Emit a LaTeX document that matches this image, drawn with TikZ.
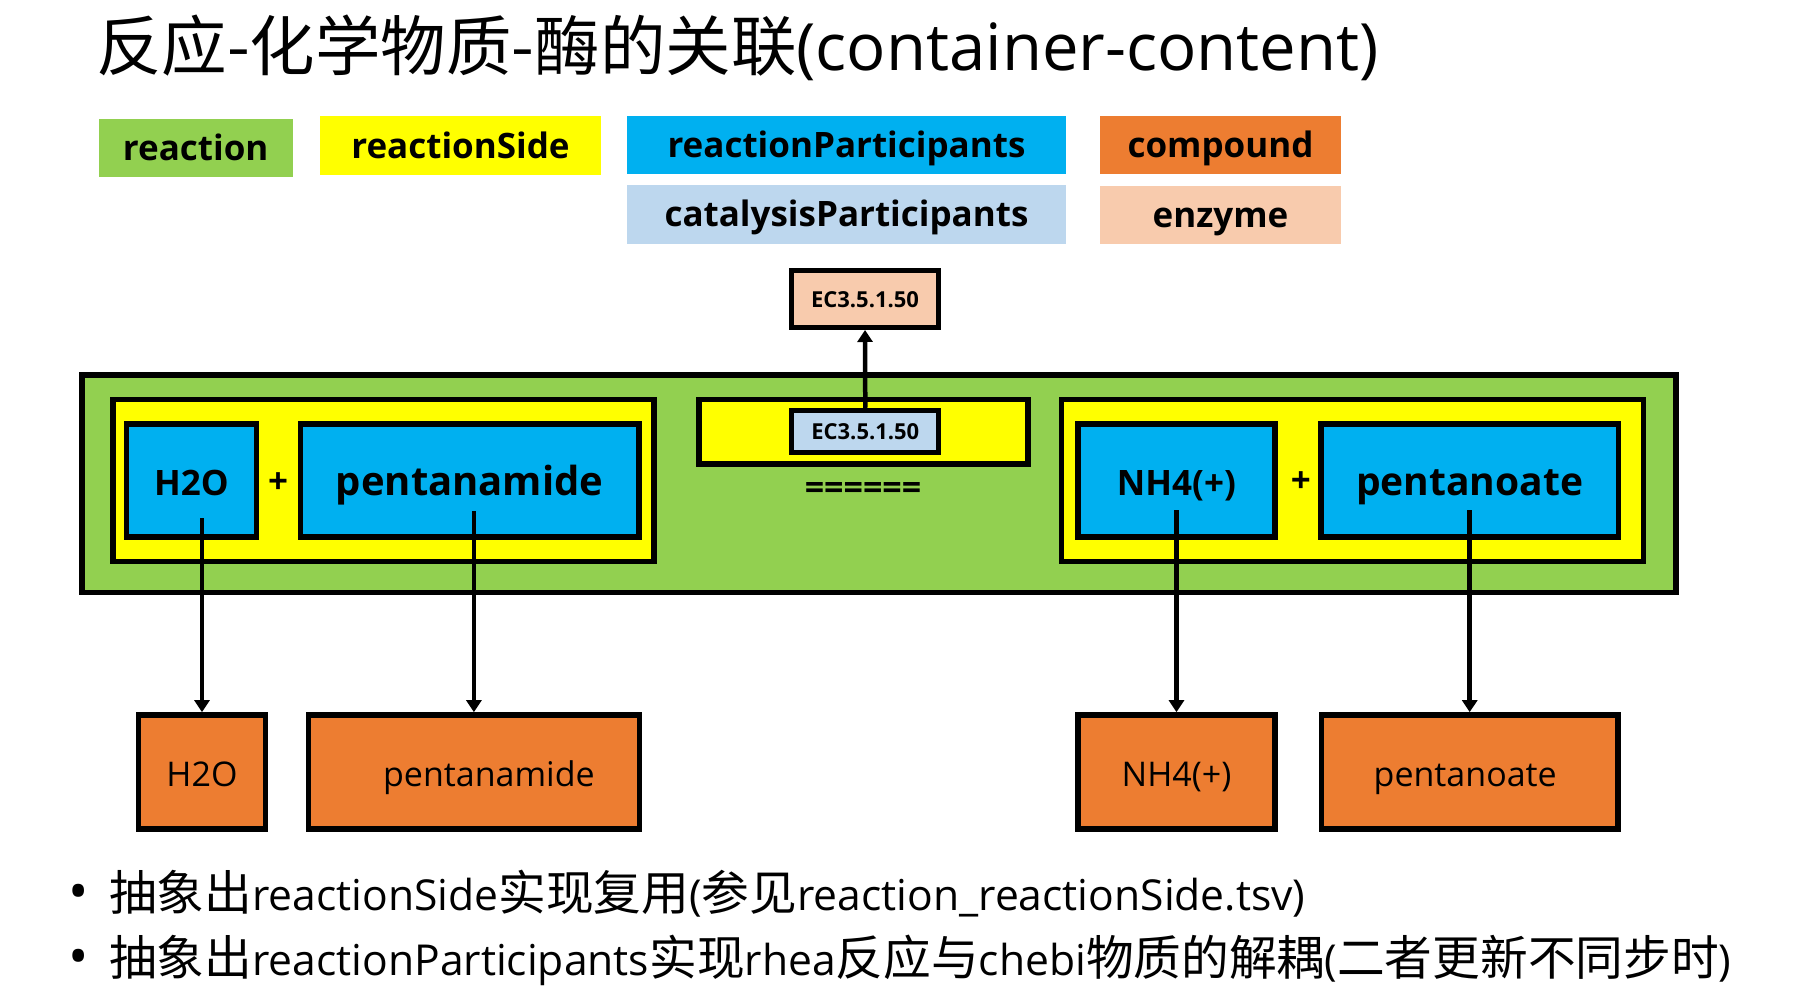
\documentclass[tikz,border=0pt]{standalone}
\usepackage{fontspec}
\setmainfont{Open Sans}
\newfontfamily\cjk{Noto Sans CJK SC}
\usetikzlibrary{arrows.meta}
\definecolor{cGreen}{HTML}{92D050}
\definecolor{cYellow}{HTML}{FFFF00}
\definecolor{cBlue}{HTML}{00B0F0}
\definecolor{cLBlue}{HTML}{BDD7EE}
\definecolor{cOrange}{HTML}{ED7D31}
\definecolor{cPeach}{HTML}{F8CBAD}
\newcommand{\fs}[1]{\fontsize{#1}{#1}\selectfont}
\newcommand{\cj}[1]{{\cjk\fs{47.7}#1}}
\begin{document}
\begin{tikzpicture}[x=1pt,y=-1pt,
  lg/.style={fill=#1, inner sep=0pt, text height=25pt, text depth=0pt, font=\fs{35}\bfseries},
  frame/.style={draw, line width=5.5pt, fill=#1, inner sep=0pt},
  bluebox/.style={draw, line width=5.5pt, fill=cBlue, inner sep=0pt, text height=29pt, text depth=0pt, minimum height=113pt},
  orbox/.style={draw, line width=5.5pt, fill=cOrange, inner sep=0pt, text height=29pt, text depth=0pt, minimum height=114pt, font=\fs{34}},
  ecbox/.style={draw, line width=5pt, fill=#1, inner sep=0pt, text height=16pt, text depth=0pt, font=\fs{22}\bfseries, minimum width=147pt},
  conn/.style={line width=4.5pt, -{Triangle[length=12pt,width=15pt]}},
  txt/.style={inner sep=0pt}]
\useasboundingbox (0,0) rectangle (1799,988);
\fill[white] (0,0) rectangle (1799,988);

% title
\node[txt, anchor=base west] (title) at (96,70) {\fs{65.5}\cjk 反应-化学物质-酶的关联{\rmfamily\fs{65.2}(container-content)}};

% legend
\node[lg=cGreen, minimum width=194pt, minimum height=57.7pt] (lgR) at (195.7,147.9) {reaction};
\node[lg=cYellow, minimum width=281pt, minimum height=59pt] (lgRS) at (460.5,145.5) {reactionSide};
\node[lg=cBlue, minimum width=439pt, minimum height=57.7pt] (lgRP) at (846.5,144.9) {reactionParticipants};
\node[lg=cLBlue, minimum width=439pt, minimum height=58.7pt] (lgCP) at (846.5,214.4) {catalysisParticipants};
\node[lg=cOrange, minimum width=241pt, minimum height=57.7pt] (lgC) at (1220.5,144.9) {compound};
\node[lg=cPeach, minimum width=241pt, minimum height=57.7pt] (lgE) at (1220.5,214.9) {enzyme};

% enzyme top
\node[ecbox=cPeach, minimum height=57pt] (ecTop) at (865,299) {EC3.5.1.50};

% reaction container
\node[frame=cGreen, minimum width=1594pt, minimum height=217.8pt] (rxn) at (878.9,483.7) {};
\node[frame=cYellow, minimum width=541pt, minimum height=162pt] (sideL) at (383.5,480.5) {};
\node[frame=cYellow, minimum width=329pt, minimum height=64.5pt] (sideM) at (863.5,431.7) {};
\node[frame=cYellow, minimum width=581.7pt, minimum height=162pt] (sideR) at (1352.4,480.5) {};

\node[ecbox=cLBlue, minimum height=42.3pt] (ecIn) at (865.3,431.4) {EC3.5.1.50};

\node[bluebox, minimum width=130pt, font=\fs{35}\bfseries] (bH2O) at (191.5,480.5) {H2O};
\node[bluebox, minimum width=338.4pt, font=\fs{40}\bfseries] (bPam) at (469.6,480.5) {pentanamide};
\node[bluebox, minimum width=197pt, font=\fs{35}\bfseries] (bNH4) at (1176.4,480.5) {NH4(+)};
\node[bluebox, minimum width=297.3pt, font=\fs{39}\bfseries] (bPoa) at (1469.7,480.5) {pentanoate};

\node[txt, font=\fs{35}\bfseries] (plusL) at (278,482.7) {+};
\node[txt, font=\fs{35}\bfseries] (plusR) at (1300.8,482) {+};
\node[txt, font=\fs{34}\bfseries] (eq) at (863,491) {======};

% compounds
\node[orbox, minimum width=127pt] (oH2O) at (202,771.9) {H2O};
\node[orbox, minimum width=331.3pt] (oPam) at (473.9,771.9) {\hspace*{30pt}pentanamide};
\node[orbox, minimum width=197pt] (oNH4) at (1176.5,771.9) {NH4(+)};
\node[orbox, minimum width=296.7pt] (oPoa) at (1469.7,771.9) {pentanoate\hspace*{9pt}};

% connectors
\coordinate (s1) at (202,518);
\coordinate (s2) at (473.9,511);
\coordinate (s3) at (1176.5,510);
\coordinate (s4) at (1469.7,510);
\draw[conn] (s1) -- (oH2O.north);
\draw[conn] (s2) -- (oPam.north);
\draw[conn] (s3) -- (oNH4.north);
\draw[conn] (s4) -- (oPoa.north);
\draw[conn] (ecIn.north) -- (ecTop.south);

% bullets
\node[txt, anchor=base, font=\fs{54}] (dot1) at (79,910) {•};
\node[txt, anchor=base, font=\fs{54}] (dot2) at (79,975) {•};
\node[txt, anchor=base west] (l1) at (109,910) {\fs{42.6}\cj{抽象出}reactionSide\cj{实现复用}(\cj{参见}reaction\_reactionSide.tsv)};
\node[txt, anchor=base west] (l2) at (109,975) {\fs{42.6}\cj{抽象出}reactionParticipants\cj{实现}rhea\cj{反应与}chebi\cj{物质的解耦}(\cj{二者更新不同步时})};
\end{tikzpicture}
\end{document}
